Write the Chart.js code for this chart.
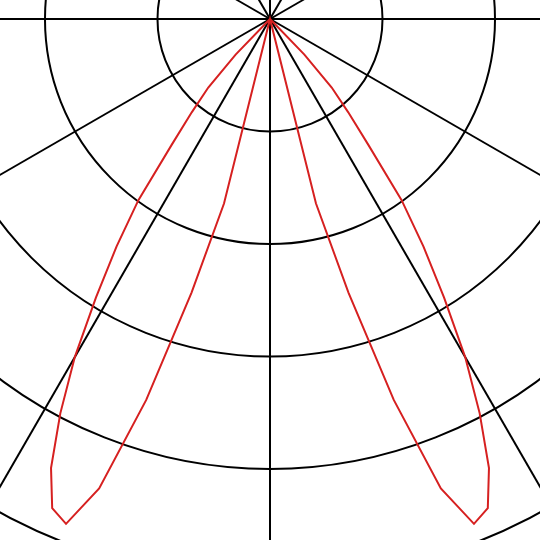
<!DOCTYPE html>
<html>
<head>
<meta charset="utf-8">
<script src="https://cdn.jsdelivr.net/npm/chart.js@4.4.1/dist/chart.umd.min.js"></script>
<style>
  html, body { margin: 0; padding: 0; background: #fff; overflow: hidden; width: 540px; height: 540px; }
  #wrap { position: absolute; left: -430px; top: -681px; width: 1400px; height: 1400px; }
</style>
</head>
<body>
<div id="wrap"><canvas id="polar" width="1400" height="1400"></canvas></div>
<script>
// angle from straight down (degrees), 2 degree steps
const stepDeg = 2;
// one lobe (same on both sides)
const lobeAngles = [12, 14, 16, 18, 20, 22, 24, 26, 28, 30, 32, 34, 36, 38, 40, 42, 44, 46];
const lobeValues = [0, 16.9, 25.3, 35.6, 44.4, 48.4, 47.6, 44.4, 39.7, 34.7, 29.2, 24.4, 19.9, 14.2, 10.8, 8.2, 4.4, 0];
// ring spacing and outer limit of the radial axis
const ringStep = 10;
const radialMax = 62.22;

document.addEventListener('DOMContentLoaded', () => {
    const n = 360 / stepDeg;
    const labels = [];
    const values = [];
    for (let i = 0; i < n; i++) {
        labels.push(String(i * stepDeg));
        values.push(0);
    }
    lobeAngles.forEach((a, k) => {
        const idx = a / stepDeg;
        values[idx] = lobeValues[k];
        values[(n - idx) % n] = lobeValues[k];
    });

    const ctx = document.getElementById('polar').getContext('2d');
    new Chart(ctx, {
        type: 'radar',
        data: {
            labels: labels,
            datasets: [{
                data: values,
                borderColor: '#d62020',
                borderWidth: 2,
                fill: false,
                pointRadius: 0,
                pointHoverRadius: 0,
                tension: 0
            }]
        },
        options: {
            responsive: false,
            devicePixelRatio: 1,
            animation: false,
            layout: { padding: 0 },
            plugins: {
                legend: { display: false },
                tooltip: { enabled: false }
            },
            scales: {
                r: {
                    min: 0,
                    max: radialMax,
                    startAngle: 180,
                    ticks: { display: false, stepSize: ringStep },
                    pointLabels: { display: false },
                    grid: {
                        circular: true,
                        color: '#000',
                        lineWidth: 2
                    },
                    angleLines: {
                        color: '#000',
                        lineWidth: (c) => (c.index % (30 / stepDeg) === 0 ? 2 : 0)
                    }
                }
            }
        }
    });
});
</script>
</body>
</html>
